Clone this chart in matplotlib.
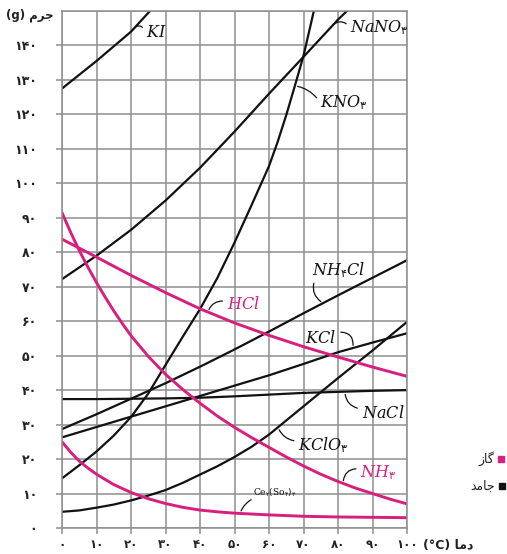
import numpy as np
import matplotlib
matplotlib.use("Agg")
import matplotlib.pyplot as plt
from matplotlib.lines import Line2D

plt.rcParams['font.family'] = ['DejaVu Sans']
plt.rcParams['mathtext.fontset'] = 'custom'
plt.rcParams['mathtext.it'] = 'DejaVu Serif:italic'
plt.rcParams['mathtext.rm'] = 'DejaVu Sans'
plt.rcParams['mathtext.sf'] = 'DejaVu Serif'

PINK = '#d81f7d'
GRID = '#8e8e8e'

# Solubility curves: temperature (°C) -> grams dissolved
ki_t = [0, 10, 20, 25.5]
ki_s = [127.5, 135.5, 144, 150]

nano3_t = [0, 10, 20, 30, 40, 50, 60, 70, 80, 82.6]
nano3_s = [72.2, 79, 86.5, 95, 104.5, 115, 126, 136.7, 147.5, 150]

kno3_t = [0, 5, 10, 15, 20, 25, 30, 35, 40, 45, 50, 55, 60, 62.5, 65, 67.5, 70, 73]
kno3_s = [14.4, 18.2, 22.2, 26.8, 32.2, 39, 47.3, 55.5, 63.5, 72.5, 82.8, 93.8, 105, 112, 119.8, 128.3, 137, 150]

nh4cl_t = [0, 10, 20, 30, 40, 50, 60, 70, 80, 90, 100]
nh4cl_s = [28.7, 33, 37.5, 42, 46.8, 51.8, 57, 62.3, 67.5, 72.6, 77.7]

kcl_t = [0, 10, 20, 30, 40, 50, 60, 70, 80, 90, 100]
kcl_s = [26.3, 29.3, 32.3, 35.3, 38.3, 41.3, 44.3, 47.6, 51, 53.8, 56.5]

nacl_t = [0, 10, 20, 30, 40, 50, 60, 70, 80, 90, 100]
nacl_s = [37.4, 37.4, 37.5, 37.6, 37.8, 38.2, 38.7, 39.2, 39.5, 39.8, 40]

kclo3_t = [0, 5, 10, 15, 20, 25, 30, 35, 40, 45, 50, 55, 60, 65, 70, 80, 90, 100]
kclo3_s = [4.7, 5.1, 5.9, 6.8, 8, 9.4, 11, 13.1, 15.5, 17.9, 20.6, 23.6, 27.1, 31.2, 35.3, 43.5, 51.5, 59.8]

hcl_t = [0, 10, 20, 30, 40, 50, 60, 70, 80, 90, 100]
hcl_s = [83.8, 78.6, 73.3, 68.3, 63.6, 59.5, 55.9, 52.6, 49.6, 46.7, 44]

nh3_t = [0, 2.5, 5, 7.5, 10, 12.5, 15, 17.5, 20, 25, 30, 35, 40, 45, 50,
         55, 60, 65, 70, 75, 80, 85, 90, 95, 100]
nh3_s = [91.5, 85.8, 80.5, 75.7, 71.2, 67, 63, 59.3, 55.8, 49.8, 44.6, 40.2, 36.2, 32.5, 29.2,
         26.2, 23.4, 20.6, 18, 15.6, 13.5, 11.6, 10, 8.4, 7]

ce_t = [0, 2.5, 5, 7.5, 10, 15, 20, 25, 30, 35, 40, 45, 50, 60, 70, 80, 90, 100]
ce_s = [25, 22, 19.4, 17.4, 15.6, 12.6, 10.3, 8.5, 7.1, 6, 5.2, 4.7, 4.3, 3.8, 3.4, 3.2, 3.1, 3.0]

x_ticks = list(range(0, 101, 10))
y_ticks = list(range(0, 141, 10))

FA_DIGITS = str.maketrans('0123456789', '۰۱۲۳۴۵۶۷۸۹')


def fa(n):
    return str(n).translate(FA_DIGITS)


fig = plt.figure(figsize=(5.07, 5.54), dpi=100)
ax = fig.add_axes([62 / 507, 26 / 554, 345 / 507, 517 / 554])
ax.set_xlim(0, 100)
ax.set_ylim(0, 150)

ax.set_xticks(x_ticks)
ax.set_yticks(y_ticks)
ax.set_yticks(range(0, 151, 10), minor=True)
ax.set_xticklabels([fa(v) for v in x_ticks], fontsize=8.5, fontweight='bold', color='#222222')
ax.set_yticklabels([fa(v) for v in y_ticks], fontsize=9, fontweight='bold', color='#222222')
ax.tick_params(axis='both', which='both', length=4, width=1.1, color=GRID)
ax.tick_params(axis='y', which='major', pad=14)
ax.tick_params(axis='x', which='major', pad=3)
ax.tick_params(axis='y', which='minor', length=0)
ax.grid(True, which='both', color=GRID, lw=1.1)
ax.set_axisbelow(True)
for sp in ax.spines.values():
    sp.set_color(GRID)
    sp.set_linewidth(1.1)

black_curves = [(ki_t, ki_s), (nano3_t, nano3_s), (kno3_t, kno3_s),
                (nh4cl_t, nh4cl_s), (kcl_t, kcl_s), (nacl_t, nacl_s),
                (kclo3_t, kclo3_s)]
for t, s in black_curves:
    ax.plot(t, s, color='#111111', lw=1.6, solid_capstyle='round', solid_joinstyle='round')

for t, s in [(hcl_t, hcl_s), (nh3_t, nh3_s), (ce_t, ce_s)]:
    ax.plot(t, s, color=PINK, lw=2.1, solid_capstyle='round', solid_joinstyle='round')


def label(text, pos, start, target_x, t, s, color='#111111', rad=0.4, size=11.5):
    ax.text(pos[0], pos[1], text, color=color, fontsize=size, ha='left', va='center')
    ax.annotate('', xy=(target_x, np.interp(target_x, t, s)), xytext=start,
                arrowprops=dict(arrowstyle='-', color='#111111', lw=0.9,
                                connectionstyle=f'arc3,rad={rad}'))


label(r'$KI$', (24.3, 143.8), (23.8, 144.6), 20.9, ki_t, ki_s, rad=0.6)
label(r'$NaNO_{\mathrm{۳}}$', (83.5, 145.2), (83.0, 145.8), 78.2, nano3_t, nano3_s, rad=0.5)
label(r'$KNO_{\mathrm{۳}}$', (74.8, 123.5), (74.3, 124.2), 67.5, kno3_t, kno3_s, rad=0.2)
label(r'$NH_{\mathrm{۴}}Cl$', (72.5, 74.8), (73.2, 71.8), 75.7, nh4cl_t, nh4cl_s, rad=0.4)
label(r'$HCl$', (47.8, 65.2), (47.3, 65.8), 42.3, hcl_t, hcl_s, color=PINK, rad=0.4)
label(r'$KCl$', (70.4, 55.4), (80.0, 56.8), 84.3, kcl_t, kcl_s, rad=-0.6)
label(r'$NaCl$', (87.0, 33.6), (86.4, 34.6), 82.0, nacl_t, nacl_s, rad=-0.4)
label(r'$KClO_{\mathrm{۳}}$', (68.4, 24.0), (68.0, 25.2), 62.6, kclo3_t, kclo3_s, rad=-0.3)
label(r'$NH_{\mathrm{۳}}$', (86.4, 16.0), (86.0, 17.2), 81.5, nh3_t, nh3_s, color=PINK, rad=0.5)
label(r'$\mathsf{Ce}_{\mathrm{۲}}(\mathsf{So}_{\mathrm{۴}})_{\mathrm{۳}}$', (55.5, 10.2), (55.5, 8.6), 51.6,
      ce_t, ce_s, rad=0.2, size=6.5)

# axis titles (Arabic script in visual order)
fig.text(6 / 507, 1 - 15 / 554, '(g) \uFEE1\uFEAE\uFE9F', fontsize=8.5, fontweight='bold',
         ha='left', va='center', color='#222222')
fig.text(423 / 507, 1 - 545 / 554, '(°C) \uFE8E\uFEE3\uFEA9', fontsize=9, fontweight='bold',
         ha='left', va='center', color='#222222')

# legend: gas / solid
fig.add_artist(Line2D([501 / 507], [1 - 459 / 554], marker='s', ms=5, color=PINK,
                      transform=fig.transFigure))
fig.add_artist(Line2D([502 / 507], [1 - 486 / 554], marker='s', ms=5, color='#111111',
                      transform=fig.transFigure))
fig.text(494 / 507, 1 - 459 / 554, '\uFEAF\uFE8E\uFB94', fontsize=9, ha='right', va='center',
         color='#222222')
fig.text(495 / 507, 1 - 486 / 554, '\uFEAA\uFEE3\uFE8E\uFE9F', fontsize=9, ha='right', va='center',
         color='#222222')

fig.savefig('out.png', dpi=100)
